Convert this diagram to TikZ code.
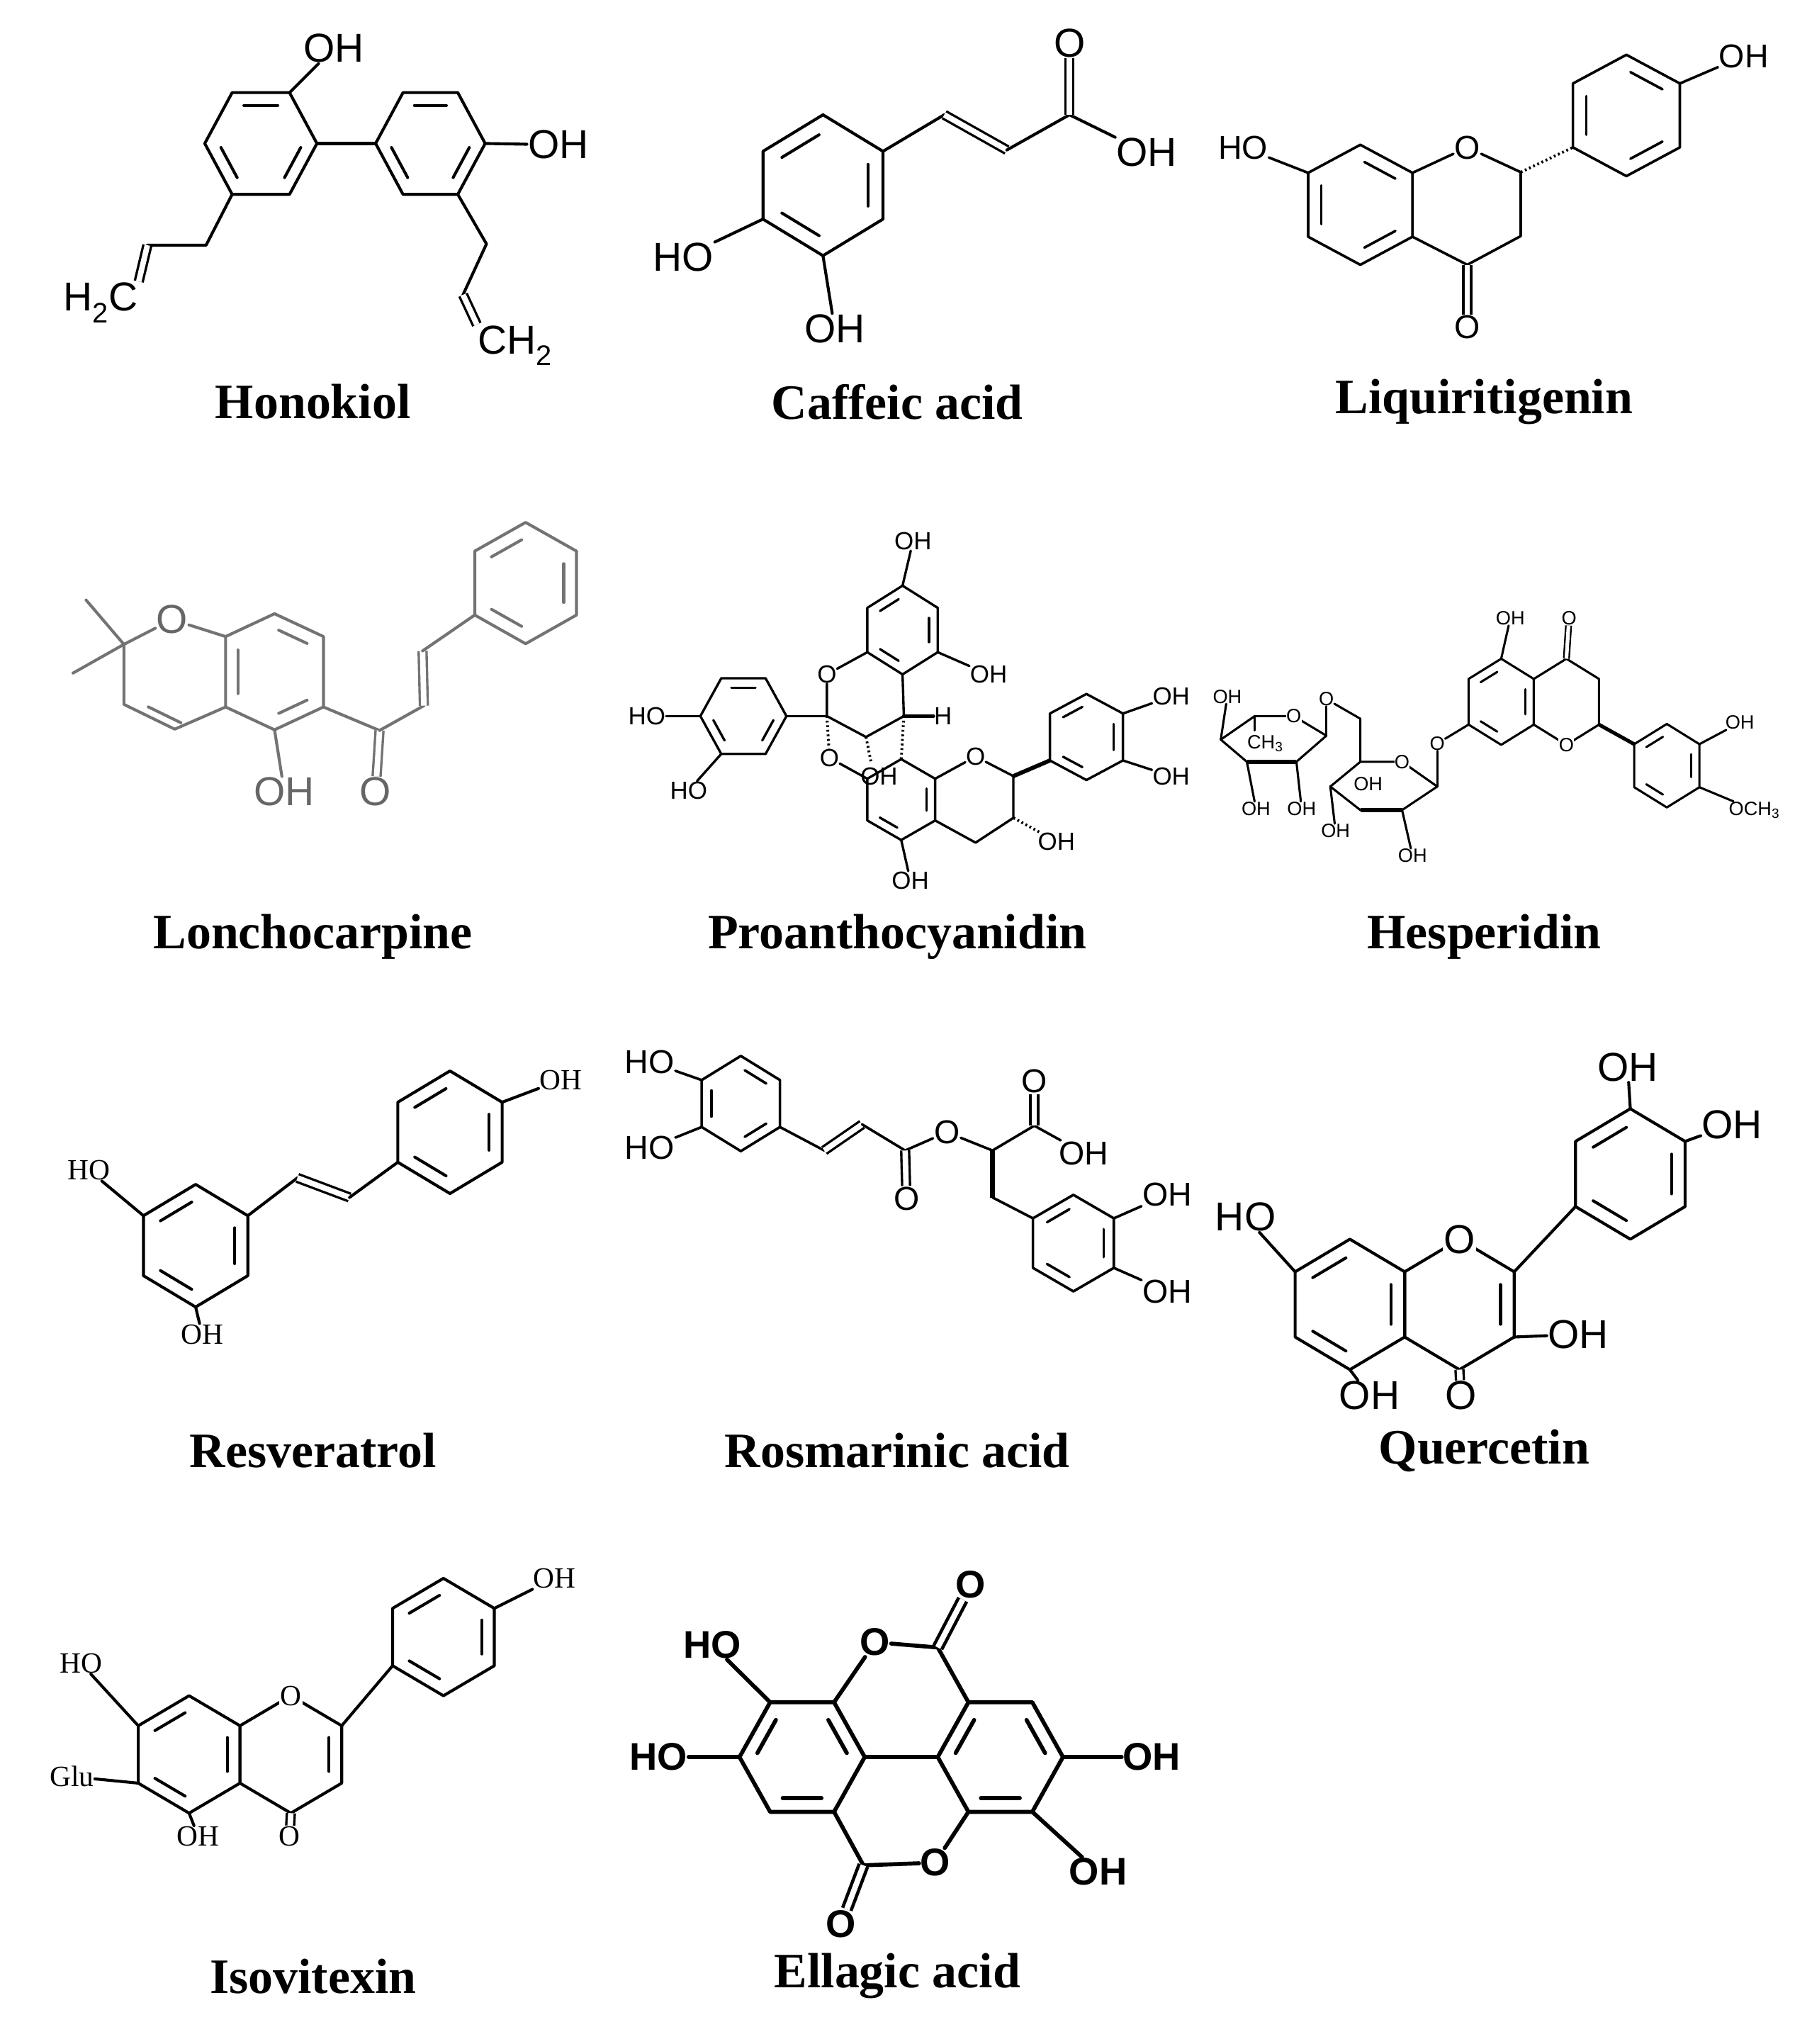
\documentclass[tikz,border=0pt]{standalone}
\usepackage{fontspec}
\setmainfont{Liberation Serif}
\setsansfont{Liberation Sans}
\usetikzlibrary{calc}
% pointy-top hexagon: name cx cy halfwidth halfheight sideoffset
\newcommand\hx[6]{\begin{scope}[shift={(#2,#3)}]
\coordinate (#1c) at (0,0);
\coordinate (#11) at (0,-#5); \coordinate (#12) at (#4,-#6); \coordinate (#13) at (#4,#6);
\coordinate (#14) at (0,#5); \coordinate (#15) at (-#4,#6); \coordinate (#16) at (-#4,-#6);
\draw[bond] (#11)--(#12)--(#13)--(#14)--(#15)--(#16)--cycle;
\end{scope}}
% flat-top hexagon: name cx cy halfwidth halfheight halftopedge
\newcommand\fx[6]{\begin{scope}[shift={(#2,#3)}]
\coordinate (#1c) at (0,0);
\coordinate (#11) at (-#6,-#5); \coordinate (#12) at (#6,-#5); \coordinate (#13) at (#4,0);
\coordinate (#14) at (#6,#5); \coordinate (#15) at (-#6,#5); \coordinate (#16) at (-#4,0);
\draw[bond] (#11)--(#12)--(#13)--(#14)--(#15)--(#16)--cycle;
\end{scope}}
\newcommand\ib[3]{\draw[bond,shorten <=5pt,shorten >=5pt] ($(#1c)!0.75!(#1#2)$) -- ($(#1c)!0.75!(#1#3)$);}
\tikzset{
 bond/.style={line width=3.2pt,line join=round,line cap=round},
 dbl/.style={line width=2.6pt,double distance=6pt},
 hash/.style={line width=3pt,dash pattern=on 2pt off 3pt},
 lab/.style={fill=white,inner sep=1pt,font=\sffamily\fontsize{44}{48}\selectfont},
 labm/.style={fill=white,inner sep=1pt,font=\sffamily\fontsize{36}{40}\selectfont},
 labs/.style={fill=white,inner sep=0.5pt,font=\sffamily\fontsize{27}{30}\selectfont},
 labt/.style={fill=white,inner sep=0.3pt,font=\sffamily\fontsize{21}{24}\selectfont},
 labr/.style={fill=white,inner sep=1pt,font=\rmfamily\fontsize{32}{36}\selectfont},
 title/.style={font=\rmfamily\bfseries\fontsize{54}{60}\selectfont},
}
\begin{document}
\begin{tikzpicture}[x=0.05cm,y=-0.05cm]
\useasboundingbox[fill=white] (0,0) rectangle (1389,1567);
% ---------- Honokiol
\fx{ha}{200}{110}{43}{39}{22}\ib{ha}{1}{2}\ib{ha}{3}{4}\ib{ha}{5}{6}
\fx{hb}{330}{110}{42}{39}{21}\ib{hb}{1}{2}\ib{hb}{3}{4}\ib{hb}{5}{6}
\draw[bond] (ha3)--(hb6);
\node[lab] (h1) at (256,37) {OH};
\node[lab] (h2) at (428,111) {OH};
\node[lab] (h3) at (77,232) {H\textsubscript{2}C};
\node[lab] (h4) at (395,265) {CH\textsubscript{2}};
\draw[bond] (ha2)--(h1);
\draw[bond] (hb3)--(h2);
\coordinate (hx1) at (158,188); \coordinate (hx2) at (113,188);
\draw[bond] (ha5)--(hx1)--(hx2); \draw[dbl] (hx2)--(h3.north east);
\coordinate (hy1) at (373,187); \coordinate (hy2) at (355,226);
\draw[bond] (hb4)--(hy1)--(hy2); \draw[dbl] (hy2)--(h4.north west);
\node[title] (t1) at (240,308) {Honokiol};
% ---------- Caffeic acid
\hx{ca}{631}{142}{46}{54}{26}\ib{ca}{6}{1}\ib{ca}{2}{3}\ib{ca}{4}{5}
\coordinate (c1) at (724,88); \coordinate (c2) at (772,115); \coordinate (c3) at (820,88);
\node[lab] (co) at (820,33) {O};
\node[lab] (coh) at (879,117) {OH};
\node[lab] (cho) at (524,197) {HO};
\node[lab] (cho2) at (640,252) {OH};
\draw[bond] (ca2)--(c1); \draw[dbl] (c1)--(c2); \draw[bond] (c2)--(c3)--(coh);
\draw[dbl] (c3)--(co);
\draw[bond] (ca5)--(cho); \draw[bond] (ca4)--(cho2);
\node[title] (t2) at (688,308) {Caffeic acid};
% ---------- Liquiritigenin
\begin{scope}[bond/.append style={line width=2.8pt}]
\hx{la}{1043}{157}{40}{46}{24.5}\ib{la}{1}{2}\ib{la}{3}{4}\ib{la}{5}{6}
\hx{lb}{1247}{88.5}{41}{46.5}{24.5}\ib{lb}{1}{2}\ib{lb}{3}{4}\ib{lb}{5}{6}
\node[labm] (lo1) at (1125,113) {O};
\coordinate (lC2) at (1166,132); \coordinate (lC3) at (1166,181); \coordinate (lC4) at (1125,203);
\draw[bond] (la2)--(lo1)--(lC2)--(lC3)--(lC4)--(la3);
\draw[hash] (lC2)--(lb5);
\node[labm] (lo2) at (1125,251) {O};
\draw[dbl] (lC4)--(lo2);
\node[labm] (lho) at (953,113) {HO};
\draw[bond] (la6)--(lho);
\node[labm] (loh) at (1337,43) {OH};
\draw[bond] (lb2)--(loh);
\end{scope}
\node[title] (t3) at (1138,308) {Liquiritigenin};
% ---------- Lonchocarpine (gray)
\begin{scope}[every path/.append style={draw=black!55},every node/.append style={text=black!60}]
\hx{ga}{210.5}{515}{37.5}{44.5}{27}\ib{ga}{1}{2}\ib{ga}{3}{4}\ib{ga}{5}{6}
\node[lab] (go) at (132,475) {O};
\coordinate (gC2) at (95,494); \coordinate (gC3) at (95,540); \coordinate (gC4) at (134,559);
\draw[bond] (ga6)--(go)--(gC2)--(gC3)--(gC4)--(ga5);
\draw[bond,shorten <=5pt,shorten >=5pt] ($(gC3)!0.2!(ga5)$)--($(gC4)!0.2!(ga5)$);
\draw[bond] (gC2)--(66,460); \draw[bond] (gC2)--(56,516);
\node[lab] (goh) at (218,607) {OH};
\draw[bond] (ga4)--(goh);
\coordinate (g1) at (291,560); \coordinate (g2) at (325,541); \coordinate (g3) at (324,499);
\node[lab] (go2) at (288,607) {O};
\draw[bond] (ga3)--(g1); \draw[dbl] (g1)--(go2);
\draw[bond] (g1)--(g2); \draw[dbl] (g2)--(g3);
\hx{gh}{403}{447}{39}{46.5}{24.5}\ib{gh}{6}{1}\ib{gh}{2}{3}\ib{gh}{4}{5}
\draw[bond] (g3)--(gh5);
\end{scope}
\node[title] (t4) at (240,718) {Lonchocarpine};
% ---------- Proanthocyanidin
\begin{scope}[bond/.append style={line width=2.6pt}]
\hx{pt}{692}{483}{27}{34}{17}\ib{pt}{6}{1}\ib{pt}{2}{3}\ib{pt}{4}{5}
\fx{pl}{570}{549}{33}{29}{17}\ib{pl}{1}{2}\ib{pl}{3}{4}\ib{pl}{5}{6}
\hx{pa}{691}{613}{26}{31}{16}\ib{pa}{2}{3}\ib{pa}{4}{5}
\hx{pr}{833}{565}{28}{33}{18}\ib{pr}{6}{1}\ib{pr}{2}{3}\ib{pr}{4}{5}
\node[labs] (pO1) at (634,517) {O};
\coordinate (pC2) at (634,549); \coordinate (pC3) at (664,565); \coordinate (pC4) at (693,549);
\draw[bond] (pt5)--(pO1)--(pC2)--(pC3)--(pC4)--(pt4);
\draw[bond] (pC2)--(pl3);
\node[labs] (pH) at (723,549) {H};
\draw[bond,line width=4pt] (pC4)--(pH);
\node[labs] (pO2) at (636,581) {O};
\draw[hash] (pC2)--(pO2); \draw[bond] (pO2)--(pa6);
\draw[hash] (pC4)--(pa1);
\draw[hash] (pC3)--(668,585);
\node[labs,fill=none] (pOH0) at (674,595) {OH};
\node[labs] (pO3) at (748,580) {O};
\coordinate (pD2) at (777,595); \coordinate (pD3) at (777,627); \coordinate (pD4) at (748,646);
\draw[bond] (pa2)--(pO3)--(pD2)--(pD3)--(pD4)--(pa3);
\draw[line width=4.5pt] (pD2)--(pr5);
\node[labs] (p1) at (700,415) {OH}; \draw[bond] (pt1)--(p1);
\node[labs] (p2) at (758,517) {OH}; \draw[bond] (pt3)--(p2);
\node[labs] (p3) at (496,549) {HO}; \draw[bond] (pl6)--(p3);
\node[labs] (p4) at (528,606) {HO}; \draw[bond] (pl5)--(p4);
\node[labs] (p5) at (698,675) {OH}; \draw[bond] (pa4)--(p5);
\node[labs] (p6) at (810,645) {OH}; \draw[hash] (pD3)--(p6);
\node[labs] (p7) at (898,534) {OH}; \draw[bond] (pr2)--(p7);
\node[labs] (p8) at (898,595) {OH}; \draw[bond] (pr3)--(p8);
\end{scope}
\node[title] (t5) at (688,718) {Proanthocyanidin};
% ---------- Hesperidin
\begin{scope}[bond/.append style={line width=2.4pt}]
\hx{sa}{1151}{538}{25}{33}{17.5}\ib{sa}{6}{1}\ib{sa}{2}{3}\ib{sa}{4}{5}
\hx{sc}{1201}{538}{25}{33}{17.5}
\hx{sb}{1278}{587}{25}{32}{16.5}\ib{sb}{2}{3}\ib{sb}{4}{5}\ib{sb}{6}{1}
\draw[line width=4pt] (sc3)--(sb6);
\node[labt] (sO) at (sc4) {O};
\node[labt] (sOk) at (1203,474) {O}; \draw[dbl,line width=1.8pt,double distance=4pt] (sc1)--(sOk);
\node[labt] (s5) at (1158,474) {OH}; \draw[bond] (sa1)--(s5);
\node[labt] (s6) at (1334,554) {OH}; \draw[bond] (sb2)--(s6);
\node[labt] (s7) at (1345,621) {OCH\textsubscript{3}}; \draw[bond] (sb3)--(s7);
\node[labt] (sOg) at (1102,570) {O};
\draw[bond] (sa5)--(sOg);
\coordinate (q1) at (1043,584); \coordinate (q2) at (1075,584); \coordinate (q3) at (1102,603);
\coordinate (q4) at (1075,621); \coordinate (q5) at (1043,621); \coordinate (q6) at (1020,603);
\draw[bond] (q1)--(q2)--(q3)--(q4)--(q5)--(q6)--cycle;
\draw[line width=5pt] (q4)--(q5);
\draw[bond] (sOg)--(q3);
\coordinate (q7) at (1043,551);
\node[labt] (sOc) at (1017,536) {O};
\draw[bond] (q1)--(q7)--(sOc);
\node[labt] (sOq) at (q2) {O};
\coordinate (u1) at (962,549); \coordinate (u2) at (992,549); \coordinate (u3) at (1017,564);
\coordinate (u4) at (994,584); \coordinate (u5) at (956,584); \coordinate (u6) at (936,567);
\draw[bond] (u1)--(u2)--(u3)--(u4)--(u5)--(u6)--cycle;
\draw[line width=5pt] (u4)--(u5);
\draw[bond] (sOc)--(u3);
\node[labt] (sOu) at (u2) {O};
\draw[bond] (u1)--(962,560);
\node[labt,fill=none] (sch) at (970,570) {CH\textsubscript{3}};
\node[labt] (s8) at (941,534) {OH}; \draw[bond] (u6)--(s8);
\node[labt] (s9) at (963,620) {OH}; \draw[bond] (u5)--(s9);
\node[labt] (s10) at (998,620) {OH}; \draw[bond] (u4)--(s10);
\node[labt,fill=none] (s11) at (1049,601) {OH};
\node[labt] (s12) at (1024,637) {OH}; \draw[bond] (q6)--(s12);
\node[labt] (s13) at (1083,656) {OH}; \draw[bond] (q4)--(s13);
\end{scope}
\node[title] (t6) at (1138,718) {Hesperidin};
% ---------- Resveratrol
\hx{ra}{150}{955}{40}{47}{23}\ib{ra}{2}{3}\ib{ra}{4}{5}\ib{ra}{6}{1}
\hx{rb}{345}{868}{40}{47}{23}\ib{rb}{2}{3}\ib{rb}{4}{5}\ib{rb}{6}{1}
\coordinate (rv1) at (228,903); \coordinate (rv2) at (268,918);
\draw[bond] (ra2)--(rv1); \draw[dbl] (rv1)--(rv2); \draw[bond] (rv2)--(rb5);
\node[labr] (r1n) at (68,897) {HO}; \draw[bond] (ra6)--(r1n);
\node[labr] (r2n) at (155,1023) {OH}; \draw[bond] (ra4)--(r2n);
\node[labr] (r3n) at (430,828) {OH}; \draw[bond] (rb2)--(r3n);
\node[title] (t7) at (240,1112) {Resveratrol};
% ---------- Rosmarinic acid
\begin{scope}[bond/.append style={line width=2.8pt}]
\hx{oa}{568}{846}{30}{36.5}{18}\ib{oa}{1}{2}\ib{oa}{3}{4}\ib{oa}{5}{6}
\hx{ob}{823}{953}{31}{37}{19}\ib{ob}{6}{1}\ib{ob}{2}{3}\ib{ob}{4}{5}
\coordinate (o1) at (632,882); \coordinate (o2) at (661,862); \coordinate (o3) at (694,882);
\coordinate (o4) at (761,882); \coordinate (o5) at (793,863); \coordinate (o6) at (761,918);
\node[labm] (oOk) at (695,919) {O};
\node[labm] (oOe) at (726,868) {O};
\node[labm] (oOa) at (793,829) {O};
\node[labm] (oOH) at (831,884) {OH};
\draw[bond] (oa3)--(o1); \draw[dbl] (o1)--(o2); \draw[bond] (o2)--(o3)--(oOe)--(o4)--(o5)--(oOH);
\draw[dbl] (o3)--(oOk); \draw[dbl] (o5)--(oOa);
\draw[line width=5pt] (o4)--(o6); \draw[bond] (o6)--(ob6);
\node[labm] (on1) at (498,814) {HO}; \draw[bond] (oa6)--(on1);
\node[labm] (on2) at (498,880) {HO}; \draw[bond] (oa5)--(on2);
\node[labm] (on3) at (895,916) {OH}; \draw[bond] (ob2)--(on3);
\node[labm] (on4) at (895,990) {OH}; \draw[bond] (ob3)--(on4);
\end{scope}
\node[title] (t8) at (688,1112) {Rosmarinic acid};
% ---------- Quercetin
\hx{qa}{1035}{1000}{42}{50}{25}\ib{qa}{6}{1}\ib{qa}{2}{3}\ib{qa}{4}{5}
\hx{qc}{1119}{1000}{42}{50}{25}\ib{qc}{2}{3}
\hx{qb}{1250}{900}{42}{50}{25}\ib{qb}{2}{3}\ib{qb}{4}{5}\ib{qb}{6}{1}
\draw[bond] (qc2)--(qb5);
\node[lab] (qO) at (qc1) {O};
\node[lab] (qn1) at (955,933) {HO}; \draw[bond] (qa6)--(qn1);
\node[lab] (qn2) at (1050,1070) {OH}; \draw[bond] (qa4)--(qn2);
\node[lab] (qn3) at (1120,1070) {O}; \draw[dbl] (qc4)--(qn3);
\node[lab] (qn4) at (1210,1023) {OH}; \draw[bond] (qc3)--(qn4);
\node[lab] (qn5) at (1248,818) {OH}; \draw[bond] (qb1)--(qn5);
\node[lab] (qn6) at (1328,862) {OH}; \draw[bond] (qb2)--(qn6);
\node[title] (t9) at (1138,1112) {Quercetin};
% ---------- Isovitexin
\hx{ia}{145}{1345}{39}{45}{22}\ib{ia}{6}{1}\ib{ia}{2}{3}\ib{ia}{4}{5}
\hx{ic}{223}{1345}{39}{45}{22}\ib{ic}{2}{3}
\hx{ig}{340}{1255}{39}{45}{22}\ib{ig}{2}{3}\ib{ig}{4}{5}\ib{ig}{6}{1}
\draw[bond] (ic2)--(ig5);
\node[labr] (iO) at (ic1) {O};
\node[labr] (i1) at (425,1210) {OH}; \draw[bond] (ig2)--(i1);
\node[labr] (i2) at (62,1275) {HO}; \draw[bond] (ia6)--(i2);
\node[labr] (i3) at (55,1362) {Glu}; \draw[bond] (ia5)--(i3);
\node[labr] (i4) at (152,1408) {OH}; \draw[bond] (ia4)--(i4);
\node[labr] (i5) at (222,1408) {O}; \draw[dbl] (ic4)--(i5);
\node[title] (t10) at (240,1515) {Isovitexin};
% ---------- Ellagic acid (bold)
\begin{scope}[bond/.append style={line width=4.4pt},lab/.append style={font=\sffamily\bfseries\fontsize{42}{46}\selectfont}]
\fx{eL}{615}{1347}{48}{42}{24.5}\ib{eL}{6}{1}\ib{eL}{2}{3}\ib{eL}{4}{5}
\fx{eR}{767}{1347}{48}{42}{24.5}\ib{eR}{6}{1}\ib{eR}{2}{3}\ib{eR}{4}{5}
\draw[bond] (eL3)--(eR6);
\node[lab] (eOt) at (671,1259) {O};
\coordinate (eCt) at (719,1263);
\node[lab] (eOk1) at (744,1215) {O};
\draw[bond] (eL2)--(eOt)--(eCt)--(eR1);
\draw[dbl,line width=3.6pt,double distance=6pt] (eCt)--(eOk1);
\node[lab] (eOb) at (717,1428) {O};
\coordinate (eCb) at (662,1430);
\node[lab] (eOk2) at (645,1475) {O};
\draw[bond] (eR5)--(eOb)--(eCb)--(eL4);
\draw[dbl,line width=3.6pt,double distance=6pt] (eCb)--(eOk2);
\node[lab] (e1) at (546,1261) {HO}; \draw[bond] (eL1)--(e1);
\node[lab] (e2) at (505,1347) {HO}; \draw[bond] (eL6)--(e2);
\node[lab] (e3) at (883,1347) {OH}; \draw[bond] (eR3)--(e3);
\node[lab] (e4) at (842,1435) {OH}; \draw[bond] (eR4)--(e4);
\end{scope}
\node[title] (t11) at (688,1515) {Ellagic acid};
\end{tikzpicture}
\end{document}
